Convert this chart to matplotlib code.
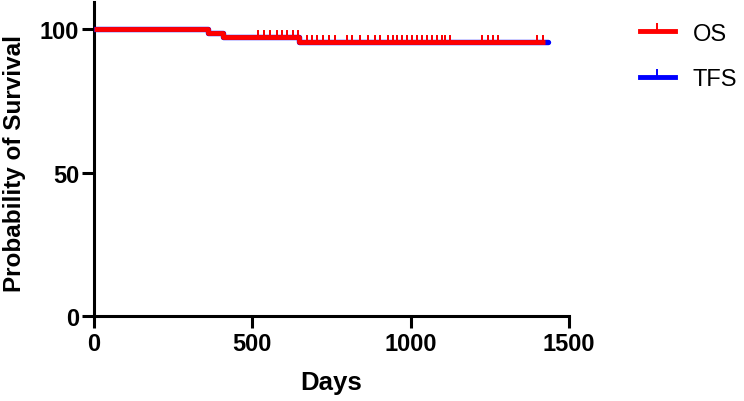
import numpy as np
import matplotlib
matplotlib.use('Agg')
import matplotlib.pyplot as plt
from matplotlib.lines import Line2D

plt.rcParams['font.family'] = ['Liberation Sans', 'DejaVu Sans']

# Kaplan-Meier step data (days, % survival)
os_times = [0, 360, 408, 647, 1424]
os_surv = [100, 98.5, 97.1, 95.6, 95.6]
tfs_times = [0, 360, 408, 647, 1434]
tfs_surv = [100, 98.5, 97.1, 95.6, 95.6]

# censored observations (days)
censored = [518, 537, 556, 578, 594, 609, 628, 644,
            672, 688, 704, 723, 742, 761, 799, 815, 840, 865, 887, 903,
            928, 944, 957, 973, 988, 1004, 1020, 1036, 1052, 1067, 1083,
            1099, 1108, 1124, 1225, 1244, 1260, 1276, 1399, 1418]

x_ticks = [0, 500, 1000, 1500]
y_ticks = [0, 50, 100]


def surv_at(times, surv, t):
    idx = np.searchsorted(times, t, side='right') - 1
    return np.array(surv)[idx]


fig = plt.figure(figsize=(7.44, 4.02), dpi=100)
ax = fig.add_axes([0.1263, 0.2114, 0.6384, 0.781])

# TFS first (blue), OS on top (red)
ax.step(tfs_times, tfs_surv, where='post', color='#0000FF', lw=3.9,
        solid_capstyle='round', zorder=3)
ax.plot(censored, surv_at(tfs_times, tfs_surv, censored), linestyle='none',
        marker=2, markersize=4.5, mew=1.3, color='#0000FF', zorder=3)
ax.step(os_times, os_surv, where='post', color='#FF0000', lw=3.5,
        solid_capstyle='butt', zorder=4)
ax.plot(censored, surv_at(os_times, os_surv, censored), linestyle='none',
        marker=2, markersize=5, mew=1.4, color='#FF0000', zorder=4)

ax.set_xlim(0, 1500)
ax.set_ylim(0, 109.4)
ax.set_xticks(x_ticks)
ax.set_yticks(y_ticks)
ax.spines['top'].set_visible(False)
ax.spines['right'].set_visible(False)
for s in ['left', 'bottom']:
    ax.spines[s].set_linewidth(2.2)
ax.tick_params(axis='both', length=8.6, width=2.2, labelsize=17)
ax.tick_params(axis='x', pad=3)
ax.tick_params(axis='y', pad=2)
for lab in ax.get_xticklabels() + ax.get_yticklabels():
    lab.set_fontweight('bold')

ax.set_xlabel('Days', fontsize=18.5, fontweight='bold', labelpad=11)
ax.set_ylabel('Probability of Survival', fontsize=17.5, fontweight='bold')
ax.yaxis.set_label_coords(-0.143, 0.49)

handles = [Line2D([0], [0], color='#FF0000', lw=3.5, marker=2, markersize=6, mew=1.4,
                  label='OS'),
           Line2D([0], [0], color='#0000FF', lw=3.5, marker=2, markersize=6, mew=1.4,
                  label='TFS')]
fig.legend(handles=handles, loc='upper left', bbox_to_anchor=(0.847, 0.965),
           frameon=False, fontsize=17, handlelength=1.5, handletextpad=0.75,
           labelspacing=1.0, borderaxespad=0)

fig.savefig('out.png', dpi=100)
